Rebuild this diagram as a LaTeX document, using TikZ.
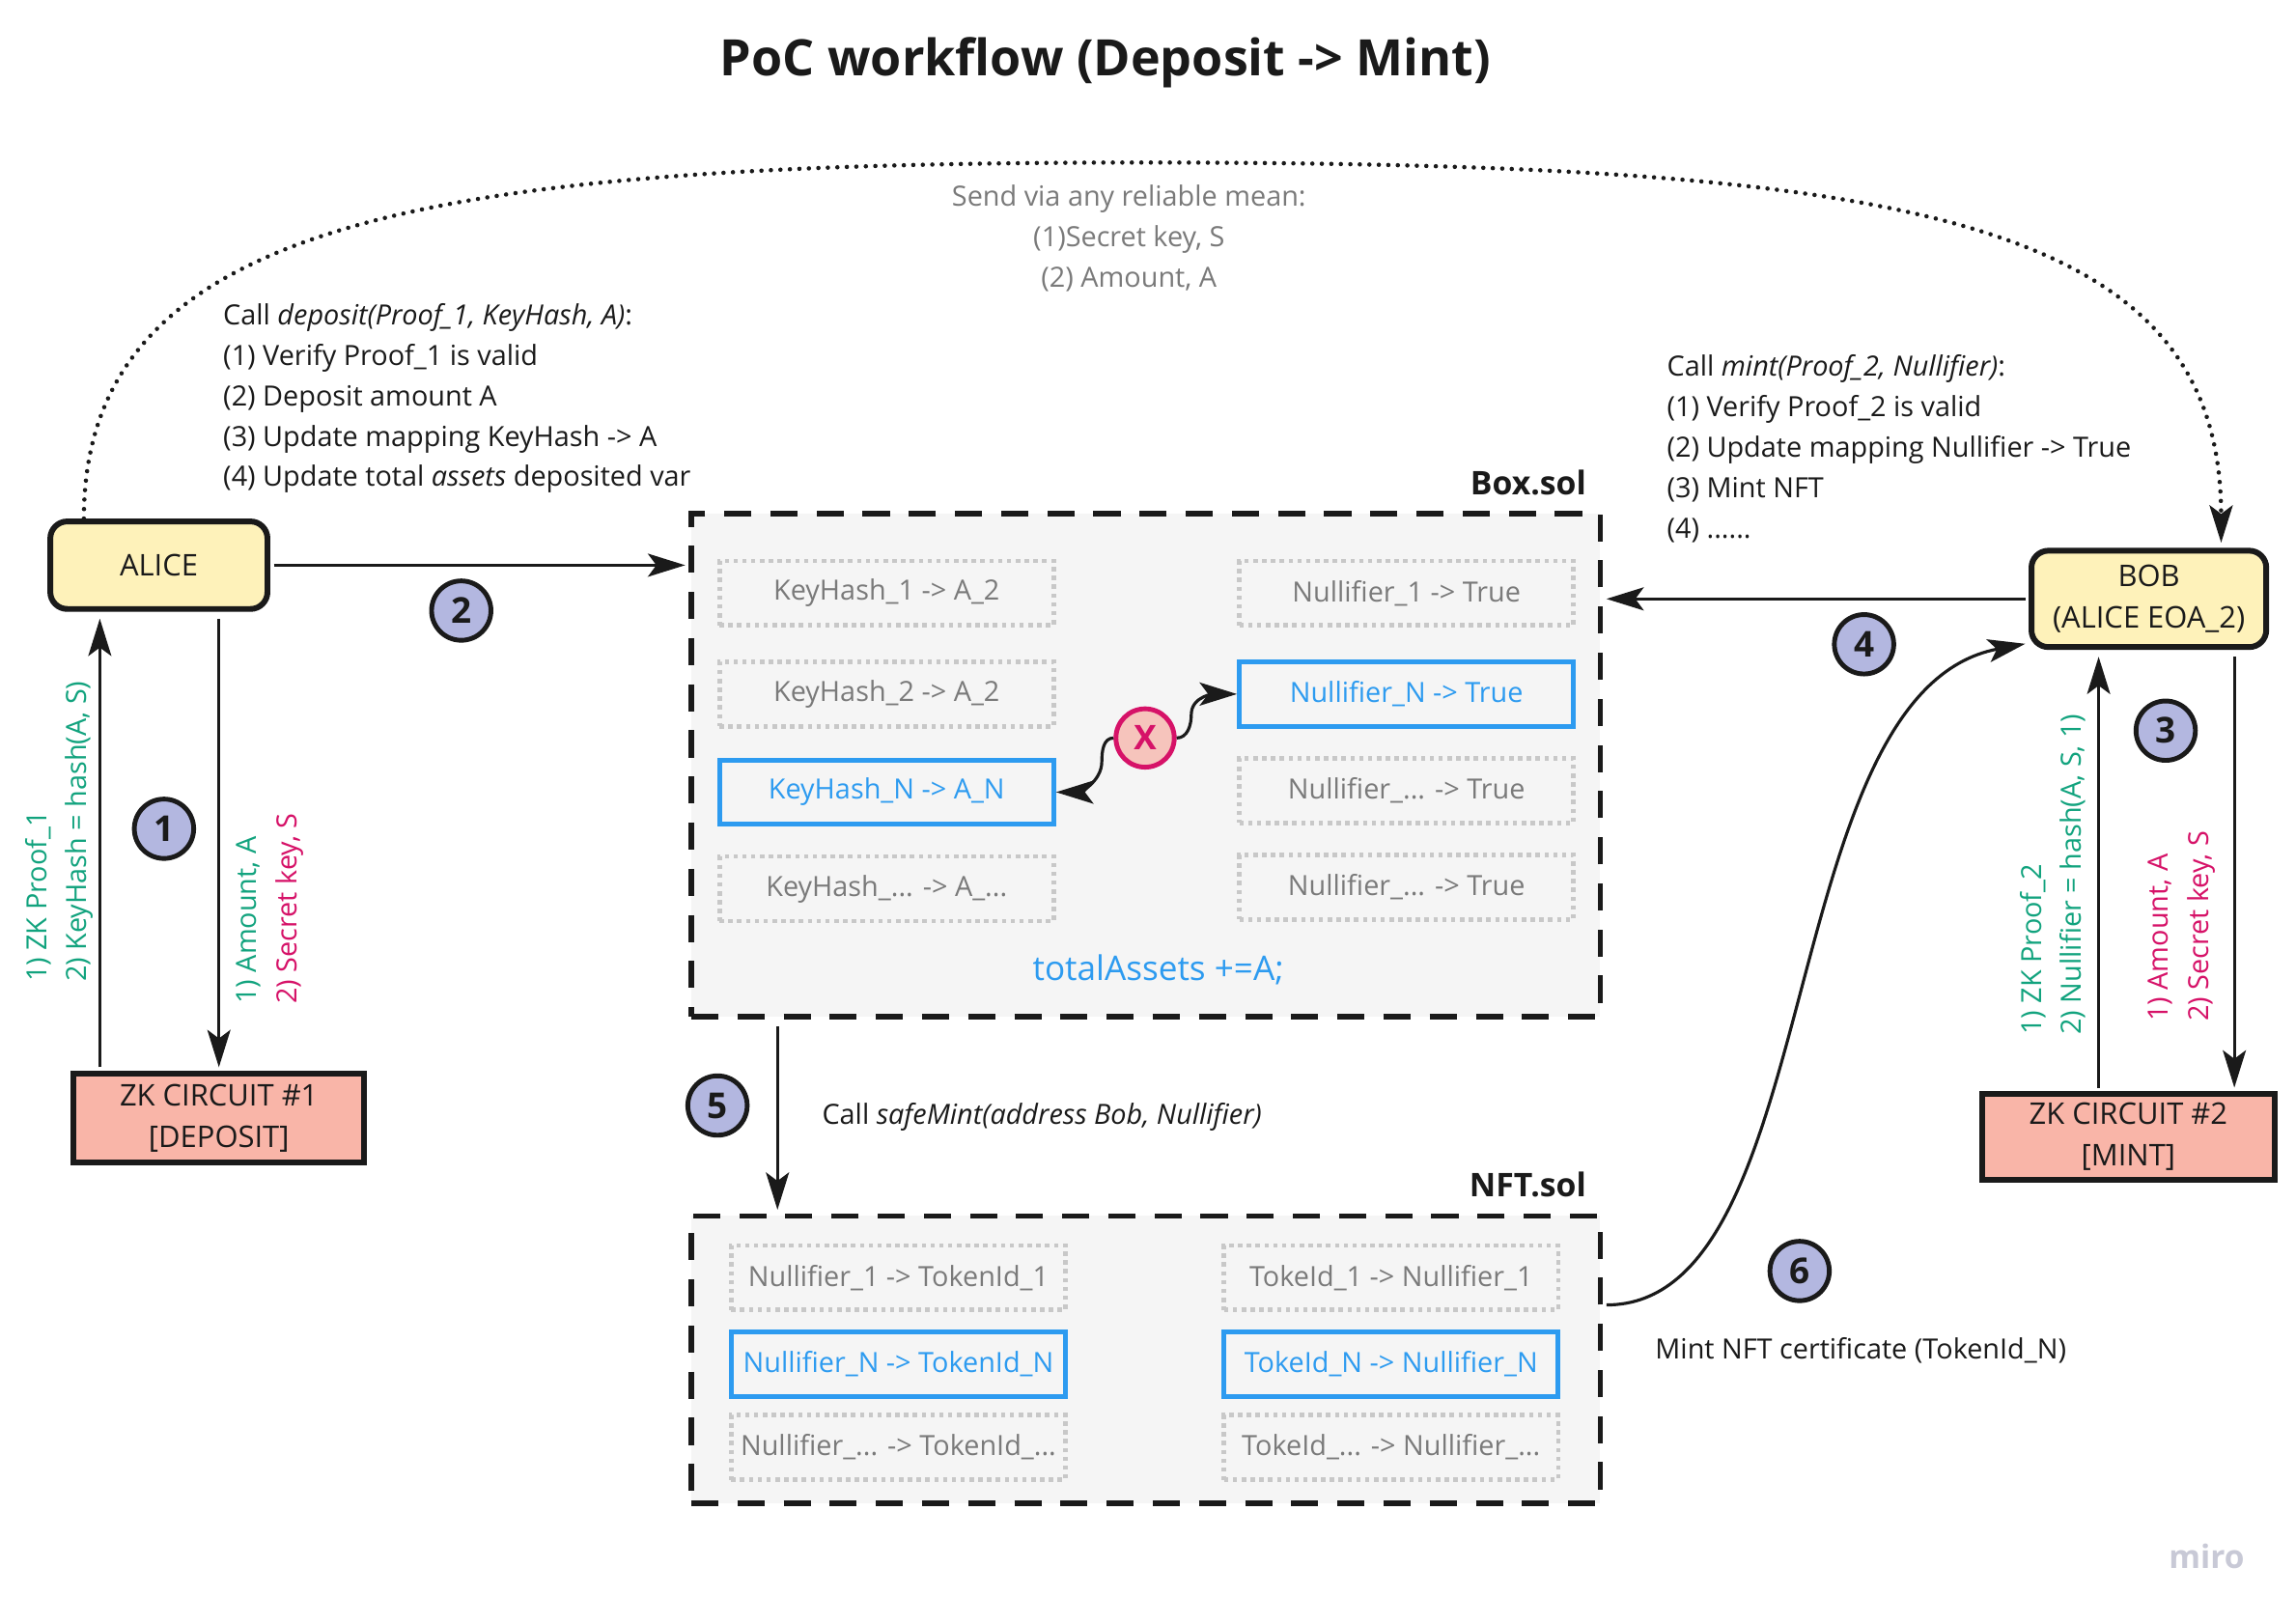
\documentclass[tikz,border=0pt]{standalone}
\usepackage{fontspec}
\setmainfont{Open Sans}
\usepackage{tikz}
\usetikzlibrary{arrows.meta,positioning,calc}
\definecolor{inkDark}{RGB}{26, 26, 26}
\definecolor{inkMuted}{RGB}{122, 122, 122}
\definecolor{inkTeal}{RGB}{18, 163, 126}
\definecolor{inkMagenta}{RGB}{214, 18, 104}
\definecolor{inkBlue}{RGB}{45, 155, 240}
\definecolor{inkLogo}{RGB}{200, 201, 214}
\definecolor{padYellow}{RGB}{254, 242, 186}
\definecolor{padSalmon}{RGB}{249, 181, 168}
\definecolor{padLavender}{RGB}{179, 183, 224}
\definecolor{padPink}{RGB}{246, 196, 188}
\definecolor{padGray}{RGB}{245, 245, 245}
\definecolor{ruleDots}{RGB}{200, 200, 200}
\newcommand{\txtbody}{\fontsize{8.2pt}{11.9pt}\selectfont}
\newcommand{\txtactor}{\fontsize{8.8pt}{12.2pt}\selectfont}

\begin{document}
\begin{tikzpicture}[x=0.015166cm, y=-0.015166cm,
    actor/.style={draw=inkDark, line width=1.7pt, fill=padYellow, rounded corners=5pt, align=center, font=\txtactor, text=inkDark, inner sep=0pt},
    circuit/.style={draw=inkDark, line width=1.7pt, fill=padSalmon, align=center, font=\txtactor, text=inkDark, inner sep=0pt},
    contract/.style={draw=inkDark, line width=1.6pt, dash pattern=on 8pt off 5.6pt, fill=padGray, inner sep=0pt},
    slot/.style={draw=ruleDots, line width=1.3pt, dash pattern=on 1.3pt off 1.3pt, font=\txtbody, text=inkMuted, minimum width=98.5pt, minimum height=19pt, inner sep=0pt},
    slotlive/.style={draw=inkBlue, line width=1.4pt, font=\txtbody, text=inkBlue, minimum width=98.5pt, minimum height=19pt, inner sep=0pt},
    badge/.style={circle, draw=inkDark, line width=1.4pt, fill=padLavender, minimum size=17.5pt, inner sep=0pt, font=\bfseries\fontsize{10.5pt}{10.5pt}\selectfont, text=inkDark},
    flow/.style={-{Stealth[length=11pt,width=6.8pt,inset=2.5pt]}, line width=0.9pt, draw=inkDark},
    courier/.style={-{Stealth[length=11pt,width=6.8pt,inset=2.5pt]}, line width=1.3pt, dash pattern=on 0pt off 2.8pt, line cap=round, draw=inkDark},
    note/.style={font=\txtbody, text=inkDark, align=left, inner sep=0pt},
    sidenote/.style={font=\txtbody, rotate=90, anchor=west, align=left, inner sep=0pt}]

    \path[use as bounding box, fill=white] (0,0) rectangle (1568,1108);

    % title
    \node[inner sep=0pt, text=inkDark, font=\bfseries\fontsize{14.8pt}{16pt}\selectfont] (title) at (755,43) {PoC workflow (Deposit -> Mint)};

    % actors and circuits
    \node[actor, minimum width=64pt, minimum height=25.8pt] (alice) at (108.5,386) {ALICE};
    \node[actor, minimum width=69.2pt, minimum height=28.4pt] (bob) at (1467.5,409) {BOB\\(ALICE EOA\_2)};
    \node[circuit, minimum width=85.6pt, minimum height=26.2pt] (zkDeposit) at (149.5,763.5) {ZK CIRCUIT \#1\\{}[DEPOSIT]};
    \node[circuit, minimum width=86.4pt, minimum height=25.4pt] (zkMint) at (1453.5,776.5) {ZK CIRCUIT \#2\\{}[MINT]};

    % Box.sol
    \node[contract, minimum width=267.9pt, minimum height=148.3pt] (boxSol) at (782.5,522.5) {};
    \node[anchor=base east, inner sep=0pt, text=inkDark, font=\bfseries\fontsize{9.6pt}{11pt}\selectfont] (boxTag) at ($(boxSol.north east)+(-11,-11)$) {Box.sol};
    \node[slot] (keyOne) at (605.5,405) {KeyHash\_1 -> A\_2};
    \node[slot] (keyTwo) at (605.5,474) {KeyHash\_2 -> A\_2};
    \node[slotlive] (keyN) at (605.5,541) {KeyHash\_N -> A\_N};
    \node[slot] (keyMore) at (605.5,607) {KeyHash\_... -> A\_...};
    \node[slot] (nulOne) at (960.5,405) {Nullifier\_1 -> True};
    \node[slotlive] (nulN) at (960.5,474) {Nullifier\_N -> True};
    \node[slot] (nulMore) at (960.5,540) {Nullifier\_... -> True};
    \node[slot] (nulRest) at (960.5,606) {Nullifier\_... -> True};
    \node[inner sep=0pt, text=inkBlue, font=\fontsize{10pt}{12pt}\selectfont] (total) at (791,662) {totalAssets +=A;};
    \node[circle, draw=inkMagenta, line width=1.4pt, fill=padPink, minimum size=17.2pt, inner sep=0pt, text=inkMagenta, font=\bfseries\fontsize{10pt}{10pt}\selectfont] (clash) at (782,504) {X};

    % NFT.sol
    \node[contract, minimum width=267.9pt, minimum height=84.7pt] (nftSol) at (782.5,928.5) {};
    \node[anchor=base east, inner sep=0pt, text=inkDark, font=\bfseries\fontsize{9.6pt}{11pt}\selectfont] (nftTag) at ($(nftSol.north east)+(-11,-11)$) {NFT.sol};
    \node[slot] (nftOne) at (613.5,872.5) {Nullifier\_1 -> TokenId\_1};
    \node[slotlive] (nftN) at (613.5,931.5) {Nullifier\_N -> TokenId\_N};
    \node[slot] (nftMore) at (613.5,988.5) {Nullifier\_... -> TokenId\_...};
    \node[slot] (tokOne) at (950,872.5) {TokeId\_1 -> Nullifier\_1};
    \node[slotlive] (tokN) at (950,931.5) {TokeId\_N -> Nullifier\_N};
    \node[slot] (tokMore) at (950,988.5) {TokeId\_... -> Nullifier\_...};

    % notes
    \node[note, anchor=north, align=center, text=inkMuted] (sendNote) at (771,126) {Send via any reliable mean:\\(1)Secret key, S\\(2) Amount, A};
    \node[note, anchor=north west] (depositNote) at (152,207) {Call \textit{deposit(Proof\_1, KeyHash, A)}:\\(1) Verify Proof\_1 is valid\\(2) Deposit amount A\\(3) Update mapping KeyHash -> A\\(4) Update total \textit{assets} deposited var};
    \node[note, anchor=north west] (mintNote) at (1138,242) {Call \textit{mint(Proof\_2, Nullifier)}:\\(1) Verify Proof\_2 is valid\\(2) Update mapping Nullifier -> True\\(3) Mint NFT\\(4) ......};
    \node[note, anchor=west] (safeNote) at (561,763) {Call \textit{safeMint(address Bob, Nullifier)}};
    \node[note, anchor=west] (certNote) at (1130,922) {Mint NFT certificate (TokenId\_N)};

    \node[sidenote] (zkOneTag) at (40.5,671) {\textcolor{inkTeal}{1) ZK Proof\_1}\\\textcolor{inkTeal}{2) KeyHash = hash(A, S)}};
    \node[sidenote] (aliceSends) at (184.5,686) {\textcolor{inkTeal}{1) Amount, A}\\\textcolor{inkMagenta}{2) Secret key, S}};
    \node[sidenote] (zkTwoTag) at (1402,707) {\textcolor{inkTeal}{1) ZK Proof\_2}\\\textcolor{inkTeal}{2) Nullifier = hash(A, S, 1)}};
    \node[sidenote] (bobSends) at (1490,698) {\textcolor{inkMagenta}{1) Amount, A}\\\textcolor{inkMagenta}{2) Secret key, S}};

    % step badges
    \node[badge] (tagOne) at (112,566) {1};
    \node[badge] (tagTwo) at (315,417) {2};
    \node[badge] (tagThree) at (1479,499) {3};
    \node[badge] (tagFour) at (1273,440) {4};
    \node[badge] (tagFive) at (490,755) {5};
    \node[badge] (tagSix) at (1229,868) {6};

    \node[inner sep=0pt, text=inkLogo, font=\bfseries\fontsize{9.5pt}{10pt}\selectfont] (logo) at (1507,1063) {miro};

    % connectors
    \coordinate (aliceIn) at ([xshift=-17.4pt]alice.south);
    \coordinate (aliceTop) at ([xshift=-22.1pt]alice.north);
    \coordinate (bobOut) at ([xshift=25.2pt]bob.south);
    \coordinate (bobIn) at ([xshift=-14.8pt]bob.south);
    \coordinate (bobTop) at ([xshift=21.3pt]bob.north);
    \coordinate (bobLow) at ([yshift=2pt]bob.south west);
    \coordinate (boxOut) at ([xshift=26.2pt]boxSol.south west);
    \coordinate (nftOut) at ([yshift=16.1pt]nftSol.east);

    \draw[courier, shorten >=1.5pt] (aliceTop) .. controls +(0,-206) and (300,111) .. (780,111) .. controls (1300,111) and +(0,-226) .. (bobTop);
    \draw[flow, shorten <=1pt, shorten >=1pt] (alice.east) -- (alice.east -| boxSol.west);
    \draw[flow, shorten <=1pt, shorten >=1pt] (bob.west) -- (bob.west -| boxSol.east);
    \draw[flow, shorten <=2pt, shorten >=1pt] (zkDeposit.north |- alice.south) -- (zkDeposit.north);
    \draw[flow, shorten <=1pt, shorten >=2pt] (aliceIn |- zkDeposit.north) -- (aliceIn);
    \draw[flow, shorten <=2pt, shorten >=1pt] (bobOut) -- (bobOut |- zkMint.north);
    \draw[flow, shorten <=1pt, shorten >=2pt] (bobIn |- zkMint.north) -- (bobIn);
    \draw[flow, shorten <=2pt, shorten >=1pt] (boxOut) -- (boxOut |- nftSol.north);
    \draw[flow, shorten <=1pt, shorten >=1pt] (nftOut) .. controls +(153,0) and +(-175,33) .. (bobLow);
    \draw[flow] (clash.west) to[out=180,in=90] ++(-8,16) to[out=-90,in=0] (keyN.east);
    \draw[flow] (clash.east) to[out=0,in=-90] ++(10,-16) to[out=90,in=180] (nulN.west);
\end{tikzpicture}
\end{document}
